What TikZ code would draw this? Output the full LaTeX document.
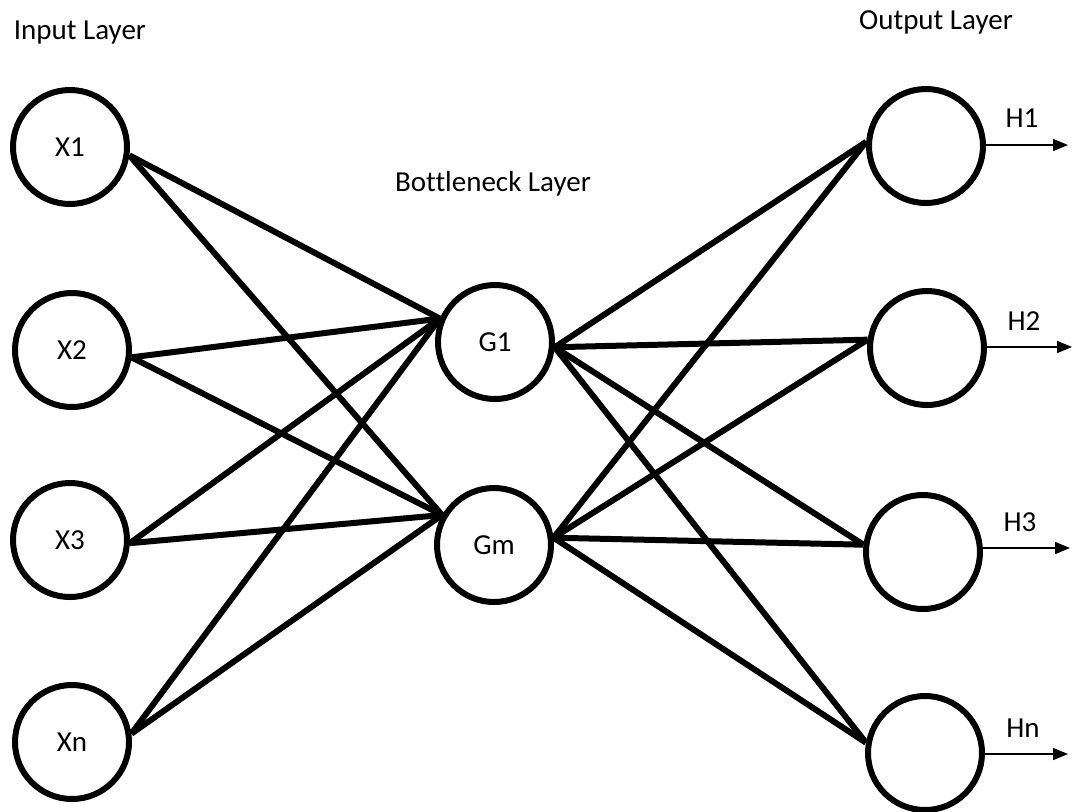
\documentclass[tikz,border=0pt]{standalone}
\usepackage{fontspec}
\setmainfont{Carlito}[Ligatures=NoCommon]
\usetikzlibrary{arrows.meta}
\begin{document}
\begin{tikzpicture}[x=0.5pt,y=-0.5pt,
  neuron/.style={circle,draw,line width=3pt,minimum size=57pt,inner sep=0pt,font=\fontsize{14.5}{17}\selectfont},
  conn/.style={line width=3pt},
  outarrow/.style={line width=0.8pt,-{Triangle[length=7.5pt,width=6pt]}},
  lbl/.style={font=\fontsize{14.5}{17}\selectfont,inner sep=0pt}]
\path[use as bounding box,fill=white] (0,0) rectangle (1073,811);
% layer titles
\node[lbl,anchor=base] (tin) at (80,39) {Input Layer};
\node[lbl,anchor=base] (tbot) at (493,191) {Bottleneck Layer};
\node[lbl,anchor=base] (tout) at (936,29) {Output Layer};
% input nodes
\node[neuron] (X1) at (70,147) {X1};
\node[neuron] (X2) at (72,350) {X2};
\node[neuron] (X3) at (70,540) {X3};
\node[neuron] (Xn) at (72,742) {Xn};
% bottleneck nodes
\node[neuron] (G1) at (495,342) {G1};
\node[neuron] (Gm) at (494,545) {Gm};
% output nodes
\node[neuron] (H1) at (926,146) {};
\node[neuron] (H2) at (927,348) {};
\node[neuron] (H3) at (923,552) {};
\node[neuron] (Hn) at (925,753) {};
% input -> bottleneck
\draw[conn] (X1.-8) -- (G1.157);
\draw[conn] (X1.-8) -- (Gm.150);
\draw[conn] (X2.-7) -- (G1.157);
\draw[conn] (X2.-7) -- (Gm.150);
\draw[conn] (X3.-3) -- (G1.157);
\draw[conn] (X3.-3) -- (Gm.150);
\draw[conn] (Xn.8) -- (G1.157);
\draw[conn] (Xn.8) -- (Gm.150);
% bottleneck -> output
\draw[conn] (G1.-5) -- (H1.176);
\draw[conn] (G1.-5) -- (H2.172);
\draw[conn] (G1.-5) -- (H3.173);
\draw[conn] (G1.-5) -- (Hn.170);
\draw[conn] (Gm.7) -- (H1.176);
\draw[conn] (Gm.7) -- (H2.172);
\draw[conn] (Gm.7) -- (H3.173);
\draw[conn] (Gm.7) -- (Hn.170);
% output arrows
\coordinate (o1) at (1068,145);
\coordinate (o2) at (1072,347);
\coordinate (o3) at (1070,548);
\coordinate (on) at (1068,754);
\draw[outarrow] (H1.east |- o1) -- (o1);
\draw[outarrow] (H2.east |- o2) -- (o2);
\draw[outarrow] (H3.east |- o3) -- (o3);
\draw[outarrow] (Hn.east |- on) -- (on);
% output labels
\node[lbl] (h1) at (1022,118) {H1};
\node[lbl] (h2) at (1024,321) {H2};
\node[lbl] (h3) at (1020,522) {H3};
\node[lbl] (hn) at (1023,728) {Hn};
\end{tikzpicture}
\end{document}
